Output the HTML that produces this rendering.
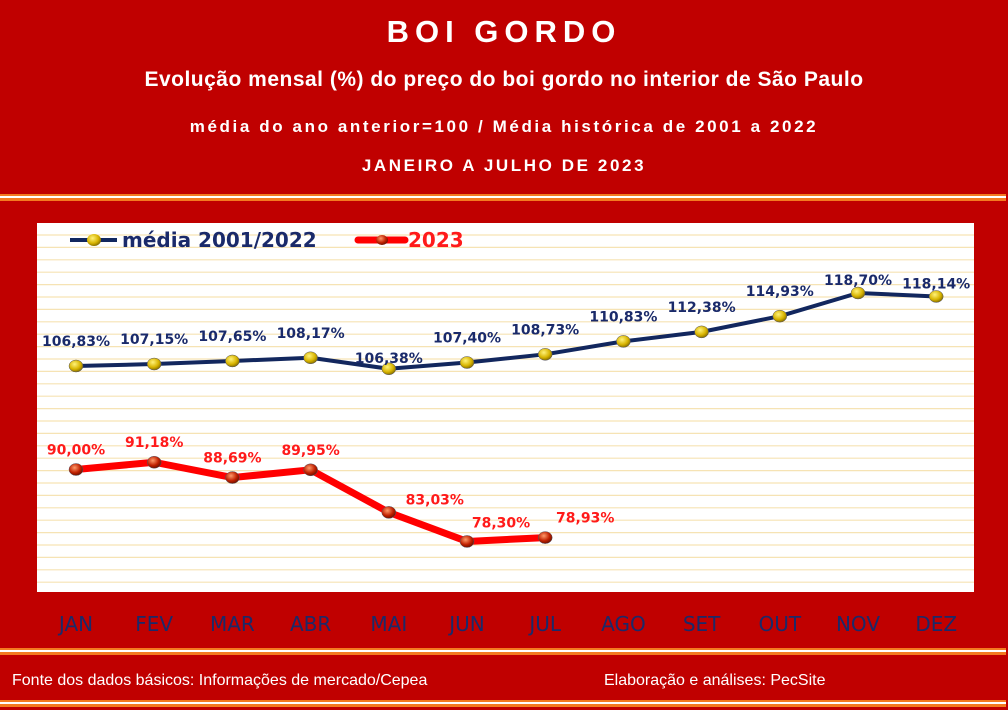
<!DOCTYPE html>
<html><head><meta charset="utf-8"><style>
body{margin:0;width:1008px;height:710px;background:#c00000;overflow:hidden;font-family:"Liberation Sans",sans-serif;position:relative}
.t{position:absolute;left:0;width:1008px;text-align:center;color:#fff;font-weight:bold}
.st{position:absolute;left:0;width:1006px;height:7px;background:linear-gradient(#f47a20 0 2px,#fff 2px 4px,#f47a20 4px 7px)}
.f{position:absolute;color:#fff;font-size:16px;top:672px}
</style></head><body>
<div class="t" style="top:14px;font-size:31px;letter-spacing:6px">BOI GORDO</div>
<div class="t" style="top:68px;font-size:21px;letter-spacing:0.5px">Evolução mensal (%) do preço do boi gordo no interior de São Paulo</div>
<div class="t" style="top:117px;font-size:17px;letter-spacing:2.6px">média do ano anterior=100 / Média histórica de 2001 a 2022</div>
<div class="t" style="top:156px;font-size:17px;letter-spacing:2.6px">JANEIRO A JULHO DE 2023</div>
<div class="st" style="top:194px"></div>
<div class="st" style="top:648px"></div>
<div class="st" style="top:700px"></div>
<div class="f" style="left:12px">Fonte dos dados básicos: Informações de mercado/Cepea</div>
<div class="f" style="left:604px">Elaboração e análises: PecSite</div>
<svg id="c" width="1008" height="710" style="position:absolute;left:0;top:0">
<defs>
<radialGradient id="gy" cx="0.4" cy="0.35" r="0.7"><stop offset="0" stop-color="#fff27a"/><stop offset="0.6" stop-color="#d8b400"/><stop offset="1" stop-color="#7a6400"/></radialGradient>
<radialGradient id="gr" cx="0.4" cy="0.35" r="0.7"><stop offset="0" stop-color="#ff9a6a"/><stop offset="0.6" stop-color="#c02000"/><stop offset="1" stop-color="#601000"/></radialGradient>
</defs>
<rect x="37" y="223" width="937" height="369" fill="#fff"/>
<g id="grid"></g><g id="marks"></g>
</svg>
<script>
const months=["JAN","FEV","MAR","ABR","MAI","JUN","JUL","AGO","SET","OUT","NOV","DEZ"];
const media=[106.83,107.15,107.65,108.17,106.38,107.40,108.73,110.83,112.38,114.93,118.70,118.14];
const y2023=[90.00,91.18,88.69,89.95,83.03,78.30,78.93];
const NS="http://www.w3.org/2000/svg";
const X=i=>76+i*78.2;
const Y=v=>366-(v-106.83)*6.15;
const fmt=v=>v.toFixed(2).replace('.',',')+'%';
const grid=document.getElementById('grid'),marks=document.getElementById('marks');
function mk(tag,at,parent){const e=document.createElementNS(NS,tag);for(const k in at)e.setAttribute(k,at[k]);parent.appendChild(e);return e;}
for(let y=235;y<590;y+=12.4){const l=mk('line',{x1:37,x2:974,y1:y,y2:y,stroke:'#f6e3b4','stroke-width':1.2},grid);

}
months.forEach((m,i)=>{const t=mk('text',{x:X(i),y:631,'text-anchor':'middle','font-size':20,fill:'#1a2a6a','font-family':'"DejaVu Sans",sans-serif'},marks);t.textContent=m;

});
function series(vals,color,w,grad,name,lblColor,offs){
const p=mk('polyline',{points:vals.map((v,i)=>X(i)+','+Y(v)).join(' '),fill:'none',stroke:color,'stroke-width':w,'stroke-linejoin':'round'},marks);


vals.forEach((v,i)=>{const c=mk('ellipse',{cx:X(i),cy:Y(v),rx:7,ry:6,fill:'url(#'+grad+')',stroke:'#556',"stroke-width":0.5},marks);


const o=offs(i);const t=mk('text',{x:X(i)+o[0],y:Y(v)+o[1],'text-anchor':'middle','font-size':14,'font-weight':'bold',fill:lblColor,'font-family':'"DejaVu Sans",sans-serif'},marks);t.textContent=fmt(v);

});}
series(media,'#12275e',4,'gy','media',  '#1a2a6a',i=>[0,i==4?-6:i>=10?-8:-20]);
series(y2023,'#ff0000',7,'gr','y2023','#ff1a1a',i=>i==4?[46,-8]:i==5?[34,-14]:i==6?[40,-15]:[0,-15]);
// legend
const lg=mk('g',{},marks);


mk('line',{x1:70,x2:117,y1:240,y2:240,stroke:'#12275e','stroke-width':4},lg);
mk('ellipse',{cx:94,cy:240,rx:7,ry:6,fill:'url(#gy)'},lg);
let t=mk('text',{x:122,y:247,'font-size':20,'font-weight':'bold',fill:'#1a2a6a','font-family':'"DejaVu Sans",sans-serif'},lg);t.textContent='média 2001/2022';


mk('line',{x1:358,x2:405,y1:240,y2:240,stroke:'#ff0000','stroke-width':7,'stroke-linecap':'round'},lg);
mk('ellipse',{cx:382,cy:240,rx:6,ry:5,fill:'url(#gr)'},lg);
t=mk('text',{x:408,y:247,'font-size':20,'font-weight':'bold',fill:'#ff1a1a','font-family':'"DejaVu Sans",sans-serif'},lg);t.textContent='2023';


</script>
</body></html>
